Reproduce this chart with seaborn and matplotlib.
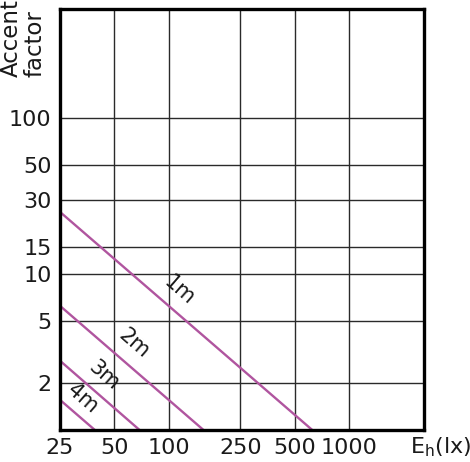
import numpy as np
import pandas as pd
import matplotlib.pyplot as plt
import seaborn as sns

# distance curves: start at 25 lx, run down to accent factor 1
distances = ['1m', '2m', '3m', '4m']
x_start = [25, 25, 25, 25]
y_start = [25, 6.25, 2.78, 1.56]
x_end = [625, 156, 69, 39]
y_end = [1, 1, 1, 1]

# label anchor points (data coords)
label_x = [115, 64, 44, 33.5]
label_y = [7.9, 3.6, 2.25, 1.6]

x_ticks = [25, 50, 100, 250, 500, 1000]
y_ticks = [2, 5, 10, 15, 30, 50, 100]

rows = []
for d, x0, y0, x1, y1 in zip(distances, x_start, y_start, x_end, y_end):
    rows.append({'dist': d, 'E': x0, 'factor': y0})
    rows.append({'dist': d, 'E': x1, 'factor': y1})
df = pd.DataFrame(rows)

sns.set_style("white")
plt.rcParams['font.family'] = ['DejaVu Sans']

fig = plt.figure(figsize=(4.7, 4.62), dpi=100)
ax = fig.add_axes([60 / 470, 1 - 430 / 462, 364 / 470, 421 / 462])

sns.lineplot(data=df, x='E', y='factor', units='dist', estimator=None,
             color='#b0559f', linewidth=1.7, ax=ax, legend=False)

ax.set_xscale('log')
ax.set_yscale('log')
ax.set_xlim(25, 2600)
ax.set_ylim(1, 500)

ax.set_xticks(x_ticks)
ax.set_xticklabels([str(t) for t in x_ticks])
ax.set_yticks(y_ticks)
ax.set_yticklabels([str(t) for t in y_ticks])
ax.minorticks_off()
ax.tick_params(length=0, labelsize=16, pad=6, colors='#1a1a1a')

for t in x_ticks[1:]:
    ax.axvline(t, color='#2a2a2a', lw=1.0, zorder=0)
for t in y_ticks:
    ax.axhline(t, color='#2a2a2a', lw=1.0, zorder=0)

for s in ax.spines.values():
    s.set_linewidth(2.4)
    s.set_color('black')

for d, lx, ly in zip(distances, label_x, label_y):
    ax.text(lx, ly, d, rotation=-41, ha='center', va='center',
            fontsize=15, color='#1a1a1a', rotation_mode='anchor')

ax.set_xlabel('')
ax.set_ylabel('')
fig.text(0.049, 1 - 77 / 462, 'Accent\nfactor', rotation=90, ha='center',
         va='bottom', multialignment='left', fontsize=16.5, color='#1a1a1a',
         linespacing=1.0)
fig.text(410 / 470, 1 - 447 / 462, r'E$_\mathregular{h}$(lx)', ha='left',
         va='center', fontsize=16, color='#1a1a1a')

fig.savefig('out.png', dpi=100)
